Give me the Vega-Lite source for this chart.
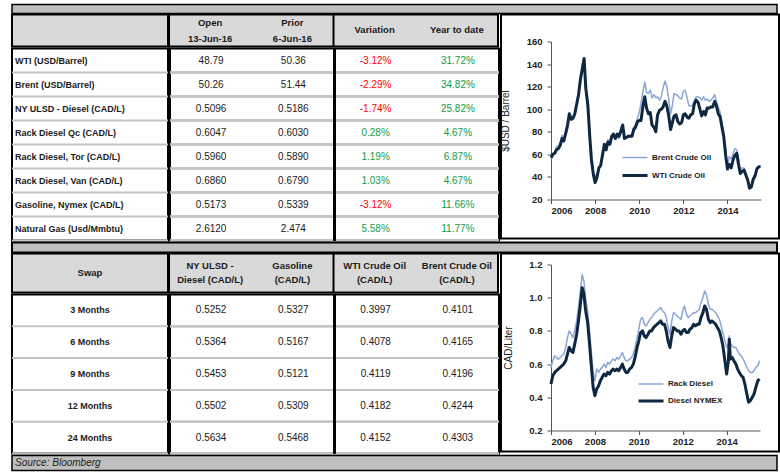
{
"$schema":"https://vega.github.io/schema/vega-lite/v6.json",
"padding":{"left":10,"top":3.5,"right":1,"bottom":1},
"background":"white",
"config":{"view":{"stroke":null},"concat":{"spacing":0},"font":"Liberation Sans",
 "axis":{"domainColor":"#555555","tickColor":"#555555","tickSize":4,"labelFontSize":9.5,"labelFontWeight":"bold","labelColor":"#222222","titleFontSize":10,"titleFontWeight":"normal","titleColor":"#222222","grid":false},
 "axisX":{"labelPadding":2},"axisY":{"labelPadding":5}},
"datasets":{
 "t1":[
  {"r":"WTI (USD/Barrel)","Open":"48.79","Prior":"50.36","Variation":"-3.12%","Year to date":"31.72%"},
  {"r":"Brent (USD/Barrel)","Open":"50.26","Prior":"51.44","Variation":"-2.29%","Year to date":"34.82%"},
  {"r":"NY ULSD - Diesel (CAD/L)","Open":"0.5096","Prior":"0.5186","Variation":"-1.74%","Year to date":"25.82%"},
  {"r":"Rack Diesel Qc (CAD/L)","Open":"0.6047","Prior":"0.6030","Variation":"0.28%","Year to date":"4.67%"},
  {"r":"Rack Diesel, Tor (CAD/L)","Open":"0.5960","Prior":"0.5890","Variation":"1.19%","Year to date":"6.87%"},
  {"r":"Rack Diesel, Van (CAD/L)","Open":"0.6860","Prior":"0.6790","Variation":"1.03%","Year to date":"4.67%"},
  {"r":"Gasoline, Nymex (CAD/L)","Open":"0.5173","Prior":"0.5339","Variation":"-3.12%","Year to date":"11.66%"},
  {"r":"Natural Gas (Usd/Mmbtu)","Open":"2.6120","Prior":"2.474","Variation":"5.58%","Year to date":"11.77%"}
 ],
 "t2":[
  {"r":"3 Months","ULSD":"0.5252","Gasoline":"0.5327","WTI":"0.3997","Brent":"0.4101"},
  {"r":"6 Months","ULSD":"0.5364","Gasoline":"0.5167","WTI":"0.4078","Brent":"0.4165"},
  {"r":"9 Months","ULSD":"0.5453","Gasoline":"0.5121","WTI":"0.4119","Brent":"0.4196"},
  {"r":"12 Months","ULSD":"0.5502","Gasoline":"0.5309","WTI":"0.4182","Brent":"0.4244"},
  {"r":"24 Months","ULSD":"0.5634","Gasoline":"0.5468","WTI":"0.4152","Brent":"0.4303"}
 ],
 "c1":[
  {"t":2006.00,"b":56,"w":57},{"t":2006.08,"b":58,"w":60},{"t":2006.17,"b":62,"w":61},{"t":2006.25,"b":67,"w":64},{"t":2006.33,"b":67,"w":65},{"t":2006.42,"b":71,"w":68},{"t":2006.50,"b":77,"w":74},{"t":2006.58,"b":71,"w":72},{"t":2006.67,"b":77,"w":79},{"t":2006.75,"b":82,"w":86},{"t":2006.83,"b":93,"w":96},{"t":2006.92,"b":92,"w":91},
  {"t":2007.00,"b":92,"w":92},{"t":2007.08,"b":95,"w":96},{"t":2007.17,"b":104,"w":105},{"t":2007.25,"b":111,"w":113},{"t":2007.33,"b":126,"w":126},{"t":2007.42,"b":134,"w":136},{"t":2007.50,"b":143,"w":145},{"t":2007.58,"b":114,"w":118},{"t":2007.67,"b":99,"w":104},{"t":2007.75,"b":73,"w":78},{"t":2007.83,"b":53,"w":56},{"t":2007.92,"b":42,"w":42},
  {"t":2008.00,"b":40,"w":35},{"t":2008.08,"b":43,"w":39},{"t":2008.17,"b":47,"w":48},{"t":2008.25,"b":51,"w":50},{"t":2008.33,"b":58,"w":59},{"t":2008.42,"b":69,"w":69},{"t":2008.50,"b":65,"w":64},{"t":2008.58,"b":73,"w":71},{"t":2008.67,"b":68,"w":69},{"t":2008.75,"b":74,"w":76},{"t":2008.83,"b":77,"w":78},{"t":2008.92,"b":75,"w":74},
  {"t":2009.00,"b":77,"w":78},{"t":2009.08,"b":74,"w":76},{"t":2009.17,"b":79,"w":81},{"t":2009.25,"b":86,"w":86},{"t":2009.33,"b":76,"w":74},{"t":2009.42,"b":75,"w":75},{"t":2009.50,"b":76,"w":76},{"t":2009.58,"b":77,"w":76},{"t":2009.67,"b":78,"w":76},{"t":2009.75,"b":84,"w":82},{"t":2009.83,"b":86,"w":84},{"t":2009.92,"b":92,"w":89},
  {"t":2010.00,"b":97,"w":90},{"t":2010.08,"b":105,"w":90},{"t":2010.17,"b":116,"w":103},{"t":2010.25,"b":124,"w":111},{"t":2010.33,"b":115,"w":101},{"t":2010.42,"b":114,"w":96},{"t":2010.50,"b":117,"w":97},{"t":2010.58,"b":110,"w":86},{"t":2010.67,"b":113,"w":84},{"t":2010.75,"b":110,"w":80},{"t":2010.83,"b":111,"w":95},{"t":2010.92,"b":108,"w":99},
  {"t":2011.00,"b":111,"w":100},{"t":2011.08,"b":119,"w":102},{"t":2011.17,"b":125,"w":107},{"t":2011.25,"b":120,"w":103},{"t":2011.33,"b":110,"w":95},{"t":2011.42,"b":96,"w":82},{"t":2011.50,"b":103,"w":88},{"t":2011.58,"b":114,"w":94},{"t":2011.67,"b":113,"w":95},{"t":2011.75,"b":112,"w":89},{"t":2011.83,"b":110,"w":87},{"t":2011.92,"b":109,"w":88},
  {"t":2012.00,"b":116,"w":95},{"t":2012.08,"b":117,"w":96},{"t":2012.17,"b":110,"w":93},{"t":2012.25,"b":103,"w":92},{"t":2012.33,"b":103,"w":95},{"t":2012.42,"b":103,"w":96},{"t":2012.50,"b":108,"w":105},{"t":2012.58,"b":111,"w":108},{"t":2012.67,"b":111,"w":106},{"t":2012.75,"b":110,"w":100},{"t":2012.83,"b":108,"w":94},{"t":2012.92,"b":111,"w":98},
  {"t":2013.00,"b":108,"w":95},{"t":2013.08,"b":109,"w":101},{"t":2013.17,"b":107,"w":101},{"t":2013.25,"b":108,"w":102},{"t":2013.33,"b":110,"w":102},{"t":2013.42,"b":113,"w":107},{"t":2013.50,"b":107,"w":103},{"t":2013.58,"b":102,"w":96},{"t":2013.67,"b":97,"w":93},{"t":2013.75,"b":87,"w":84},{"t":2013.83,"b":79,"w":76},{"t":2013.92,"b":62,"w":59},
  {"t":2014.00,"b":48,"w":47},{"t":2014.08,"b":58,"w":51},{"t":2014.17,"b":56,"w":48},{"t":2014.25,"b":60,"w":55},{"t":2014.33,"b":65,"w":59},{"t":2014.42,"b":64,"w":61},{"t":2014.50,"b":57,"w":51},{"t":2014.58,"b":47,"w":43},{"t":2014.67,"b":48,"w":45},{"t":2014.75,"b":48,"w":46},{"t":2014.83,"b":44,"w":42},{"t":2014.92,"b":38,"w":37},
  {"t":2015.00,"b":31,"w":30},{"t":2015.08,"b":33,"w":31},{"t":2015.17,"b":39,"w":38},{"t":2015.25,"b":42,"w":41},{"t":2015.33,"b":47,"w":47},{"t":2015.42,"b":49,"w":49},{"t":2015.50,"b":50,"w":49}
 ],
 "c2":[
  {"t":2006.00,"r":0.58,"n":0.48},{"t":2006.08,"r":0.62,"n":0.53},{"t":2006.17,"r":0.65,"n":0.55},{"t":2006.25,"r":0.64,"n":0.56},{"t":2006.33,"r":0.63,"n":0.57},{"t":2006.42,"r":0.64,"n":0.58},{"t":2006.50,"r":0.65,"n":0.59},{"t":2006.58,"r":0.66,"n":0.60},{"t":2006.67,"r":0.70,"n":0.62},{"t":2006.75,"r":0.76,"n":0.66},{"t":2006.83,"r":0.80,"n":0.70},{"t":2006.92,"r":0.78,"n":0.68},
  {"t":2007.00,"r":0.76,"n":0.67},{"t":2007.08,"r":0.80,"n":0.72},{"t":2007.17,"r":0.86,"n":0.78},{"t":2007.25,"r":0.94,"n":0.86},{"t":2007.33,"r":1.03,"n":0.95},{"t":2007.42,"r":1.14,"n":1.06},{"t":2007.50,"r":1.10,"n":1.02},{"t":2007.58,"r":0.99,"n":0.92},{"t":2007.67,"r":0.92,"n":0.85},{"t":2007.75,"r":0.80,"n":0.73},{"t":2007.83,"r":0.68,"n":0.60},{"t":2007.92,"r":0.55,"n":0.46},
  {"t":2008.00,"r":0.50,"n":0.41},{"t":2008.08,"r":0.57,"n":0.45},{"t":2008.17,"r":0.55,"n":0.47},{"t":2008.25,"r":0.57,"n":0.50},{"t":2008.33,"r":0.58,"n":0.52},{"t":2008.42,"r":0.60,"n":0.54},{"t":2008.50,"r":0.58,"n":0.53},{"t":2008.58,"r":0.61,"n":0.55},{"t":2008.67,"r":0.60,"n":0.54},{"t":2008.75,"r":0.62,"n":0.56},{"t":2008.83,"r":0.63,"n":0.57},{"t":2008.92,"r":0.62,"n":0.56},
  {"t":2009.00,"r":0.64,"n":0.57},{"t":2009.08,"r":0.63,"n":0.56},{"t":2009.17,"r":0.65,"n":0.58},{"t":2009.25,"r":0.67,"n":0.60},{"t":2009.33,"r":0.64,"n":0.57},{"t":2009.42,"r":0.62,"n":0.55},{"t":2009.50,"r":0.62,"n":0.55},{"t":2009.58,"r":0.63,"n":0.57},{"t":2009.67,"r":0.64,"n":0.58},{"t":2009.75,"r":0.66,"n":0.60},{"t":2009.83,"r":0.70,"n":0.64},{"t":2009.92,"r":0.76,"n":0.70},
  {"t":2010.00,"r":0.81,"n":0.74},{"t":2010.08,"r":0.87,"n":0.79},{"t":2010.17,"r":0.88,"n":0.80},{"t":2010.25,"r":0.84,"n":0.77},{"t":2010.33,"r":0.83,"n":0.76},{"t":2010.42,"r":0.85,"n":0.78},{"t":2010.50,"r":0.87,"n":0.80},{"t":2010.58,"r":0.88,"n":0.80},{"t":2010.67,"r":0.90,"n":0.82},{"t":2010.75,"r":0.91,"n":0.83},{"t":2010.83,"r":0.92,"n":0.84},{"t":2010.92,"r":0.93,"n":0.85},
  {"t":2011.00,"r":0.94,"n":0.86},{"t":2011.08,"r":0.92,"n":0.84},{"t":2011.17,"r":0.91,"n":0.84},{"t":2011.25,"r":0.88,"n":0.80},{"t":2011.33,"r":0.82,"n":0.74},{"t":2011.42,"r":0.78,"n":0.70},{"t":2011.50,"r":0.86,"n":0.77},{"t":2011.58,"r":0.91,"n":0.82},{"t":2011.67,"r":0.90,"n":0.81},{"t":2011.75,"r":0.89,"n":0.80},{"t":2011.83,"r":0.88,"n":0.80},{"t":2011.92,"r":0.87,"n":0.78},
  {"t":2012.00,"r":0.92,"n":0.80},{"t":2012.08,"r":0.95,"n":0.81},{"t":2012.17,"r":0.90,"n":0.79},{"t":2012.25,"r":0.88,"n":0.79},{"t":2012.33,"r":0.89,"n":0.81},{"t":2012.42,"r":0.90,"n":0.82},{"t":2012.50,"r":0.91,"n":0.84},{"t":2012.58,"r":0.91,"n":0.83},{"t":2012.67,"r":0.92,"n":0.84},{"t":2012.75,"r":0.93,"n":0.84},{"t":2012.83,"r":0.97,"n":0.88},{"t":2012.92,"r":1.00,"n":0.91},
  {"t":2013.00,"r":1.04,"n":0.95},{"t":2013.08,"r":1.02,"n":0.93},{"t":2013.17,"r":0.96,"n":0.87},{"t":2013.25,"r":0.93,"n":0.85},{"t":2013.33,"r":0.93,"n":0.86},{"t":2013.42,"r":0.92,"n":0.85},{"t":2013.50,"r":0.91,"n":0.84},{"t":2013.58,"r":0.89,"n":0.82},{"t":2013.67,"r":0.87,"n":0.80},{"t":2013.75,"r":0.83,"n":0.76},{"t":2013.83,"r":0.79,"n":0.71},{"t":2013.92,"r":0.74,"n":0.62},
  {"t":2014.00,"r":0.70,"n":0.54},{"t":2014.08,"r":0.72,"n":0.62},{"t":2014.12,"r":0.77,"n":0.75},{"t":2014.17,"r":0.73,"n":0.63},{"t":2014.25,"r":0.71,"n":0.64},{"t":2014.33,"r":0.70,"n":0.62},{"t":2014.42,"r":0.70,"n":0.60},{"t":2014.50,"r":0.68,"n":0.57},{"t":2014.58,"r":0.66,"n":0.55},{"t":2014.67,"r":0.65,"n":0.53},{"t":2014.75,"r":0.63,"n":0.52},{"t":2014.83,"r":0.61,"n":0.48},{"t":2014.92,"r":0.58,"n":0.42},
  {"t":2015.00,"r":0.56,"n":0.37},{"t":2015.08,"r":0.55,"n":0.38},{"t":2015.17,"r":0.55,"n":0.40},{"t":2015.25,"r":0.56,"n":0.42},{"t":2015.33,"r":0.58,"n":0.46},{"t":2015.42,"r":0.59,"n":0.50},{"t":2015.50,"r":0.62,"n":0.51}
 ]
},
"spacing":-6,
"resolve":{"scale":{"color":"independent","strokeWidth":"independent"},"legend":{"color":"independent","strokeWidth":"independent"}},
"vconcat":[
 {"width":765,"height":9,"view":{"fill":"#bfbfbf","stroke":"#000000","strokeWidth":1.5},"data":{"values":[]},"mark":"text"},
 {"spacing":-4,"resolve":{"scale":{"color":"independent","strokeWidth":"independent"},"legend":{"color":"independent","strokeWidth":"independent"}},"hconcat":[
  {"spacing":-7,"vconcat":[
   {"spacing":-4,"hconcat":[
    {"width":156,"height":32,"view":{"fill":"#d9d9d9","stroke":"#000000","strokeWidth":2},"data":{"values":[]},"mark":"text"},
    {"width":329,"height":32,"view":{"fill":"#d9d9d9","stroke":"#000000","strokeWidth":2},
     "data":{"values":[{"c":"Open","a":"Open","b":"13-Jun-16"},{"c":"Prior","a":"Prior","b":"6-Jun-16"},{"c":"Variation","m":"Variation"},{"c":"Year to date","m":"Year to date"}]},
     "layer":[
      {"transform":[{"filter":"isValid(datum.a)"}],"mark":{"type":"text","fontWeight":"bold","fontSize":9.5,"dy":-8,"color":"#1a1a1a"},
       "encoding":{"x":{"field":"c","type":"nominal","scale":{"domain":["Open","Prior","Variation","Year to date"],"paddingInner":0,"paddingOuter":0},"axis":null},"text":{"field":"a"}}},
      {"transform":[{"filter":"isValid(datum.b)"}],"mark":{"type":"text","fontWeight":"bold","fontSize":9.5,"dy":8,"color":"#1a1a1a"},
       "encoding":{"x":{"field":"c","type":"nominal","scale":{"domain":["Open","Prior","Variation","Year to date"],"paddingInner":0,"paddingOuter":0},"axis":null},"text":{"field":"b"}}},
      {"transform":[{"filter":"isValid(datum.m)"}],"mark":{"type":"text","fontWeight":"bold","fontSize":9.5,"dy":-1,"color":"#1a1a1a"},
       "encoding":{"x":{"field":"c","type":"nominal","scale":{"domain":["Open","Prior","Variation","Year to date"],"paddingInner":0,"paddingOuter":0},"axis":null},"text":{"field":"m"}}},
      {"transform":[{"filter":"datum.c==='Variation'"}],"mark":{"type":"rule","color":"#000000","strokeWidth":2},
       "encoding":{"x":{"field":"c","type":"nominal","bandPosition":0,"scale":{"domain":["Open","Prior","Variation","Year to date"],"paddingInner":0,"paddingOuter":0},"axis":null}}}
     ]}
   ]},
   {"spacing":-4,"hconcat":[
    {"width":156,"height":192,"view":{"stroke":"#000000","strokeWidth":2},"data":{"name":"t1"},
     "layer":[
      {"mark":{"type":"rule","color":"#c4c4c4","strokeWidth":2},"encoding":{"y":{"field":"r","type":"nominal","sort":null,"bandPosition":1,"scale":{"paddingInner":0,"paddingOuter":0},"axis":null}}},
      {"mark":{"type":"text","align":"left","dx":3,"fontWeight":"bold","fontSize":9,"color":"#1a1a1a"},
       "encoding":{"y":{"field":"r","type":"nominal","sort":null,"scale":{"paddingInner":0,"paddingOuter":0},"axis":null},"x":{"datum":0,"type":"quantitative","scale":{"domain":[0,1]},"axis":null},"text":{"field":"r"}}}
     ]},
    {"width":329,"height":192,"view":{"stroke":"#000000","strokeWidth":2},"data":{"name":"t1"},
     "transform":[{"fold":["Open","Prior","Variation","Year to date"],"as":["c","v"]}],
     "layer":[
      {"mark":{"type":"rule","color":"#c4c4c4","strokeWidth":2},"encoding":{"y":{"field":"r","type":"nominal","sort":null,"bandPosition":1,"scale":{"paddingInner":0,"paddingOuter":0},"axis":null}}},
      {"mark":{"type":"text","fontSize":10,"color":"#1a1a1a"},
       "encoding":{"y":{"field":"r","type":"nominal","sort":null,"scale":{"paddingInner":0,"paddingOuter":0},"axis":null},
        "x":{"field":"c","type":"nominal","scale":{"domain":["Open","Prior","Variation","Year to date"],"paddingInner":0,"paddingOuter":0},"axis":null},
        "text":{"field":"v"},
        "color":{"condition":[{"test":"indexof(datum.v,'-')===0","value":"#ff0000"},{"test":"indexof(datum.v,'%')>0","value":"#159a4a"}],"value":"#1a1a1a"}}},
      {"transform":[{"filter":"datum.c==='Variation'"}],"mark":{"type":"rule","color":"#000000","strokeWidth":2},
       "encoding":{"x":{"field":"c","type":"nominal","bandPosition":0,"scale":{"domain":["Open","Prior","Variation","Year to date"],"paddingInner":0,"paddingOuter":0},"axis":null}}}
     ]}
   ]}
  ]},
  {"width":278,"height":224,"view":{"stroke":"#000000","strokeWidth":2},"data":{"name":"c1"},
   "transform":[{"fold":["b","w"],"as":["s","v"]}],
   "mark":{"type":"line","strokeJoin":"round"},
   "encoding":{
    "x":{"field":"t","type":"quantitative","scale":{"domain":[2006,2015.52],"range":[50,260],"nice":false,"zero":false},"axis":{"values":[2006,2008,2010,2012,2014],"format":"d","title":null,"offset":-39}},
    "y":{"field":"v","type":"quantitative","scale":{"domain":[20,160],"range":[185,27],"nice":false,"zero":false},"axis":{"values":[20,40,60,80,100,120,140,160],"title":"$USD / Barrel","titlePadding":16,"offset":-50}},
    "color":{"field":"s","type":"ordinal","scale":{"domain":["b","w"],"range":["#8ca5d7","#0f2841"]},
     "legend":{"orient":"none","legendX":120,"legendY":134,"title":null,"symbolType":"stroke","symbolSize":625,"clipHeight":18,"rowPadding":0,"labelFontSize":8,"labelFontWeight":"bold","labelColor":"#1a1a1a","labelOffset":3,"padding":0,
      "labelExpr":"datum.label=='b'?'Brent Crude Oil':'WTI Crude Oil'",
      "encode":{"symbols":{"update":{"strokeWidth":{"signal":"datum.value==='w' ? 3.5 : 1.5"}}}}}},
    "strokeWidth":{"field":"s","type":"ordinal","scale":{"domain":["b","w"],"range":[1.5,3]},"legend":null}
   }}
 ]},
 {"width":765,"height":10,"view":{"fill":"#bfbfbf","stroke":"#000000","strokeWidth":2},"data":{"values":[]},"mark":"text"},
 {"spacing":-4,"resolve":{"scale":{"color":"independent","strokeWidth":"independent"},"legend":{"color":"independent","strokeWidth":"independent"}},"hconcat":[
  {"spacing":-7,"vconcat":[
   {"spacing":-4,"hconcat":[
    {"width":156,"height":39,"view":{"fill":"#d9d9d9","stroke":"#000000","strokeWidth":2},"data":{"values":[{"h":"Swap"}]},
     "mark":{"type":"text","fontWeight":"bold","fontSize":9.5,"color":"#1a1a1a"},"encoding":{"text":{"field":"h"}}},
    {"width":329,"height":39,"view":{"fill":"#d9d9d9","stroke":"#000000","strokeWidth":2},
     "data":{"values":[{"c":"ULSD","a":"NY ULSD -","b":"Diesel (CAD/L)"},{"c":"Gasoline","a":"Gasoline","b":"(CAD/L)"},{"c":"WTI","a":"WTI Crude Oil","b":"(CAD/L)"},{"c":"Brent","a":"Brent Crude Oil","b":"(CAD/L)"}]},
     "layer":[
      {"mark":{"type":"text","fontWeight":"bold","fontSize":9.5,"dy":-7,"color":"#1a1a1a"},
       "encoding":{"x":{"field":"c","type":"nominal","scale":{"domain":["ULSD","Gasoline","WTI","Brent"],"paddingInner":0,"paddingOuter":0},"axis":null},"text":{"field":"a"}}},
      {"mark":{"type":"text","fontWeight":"bold","fontSize":9.5,"dy":7,"color":"#1a1a1a"},
       "encoding":{"x":{"field":"c","type":"nominal","scale":{"domain":["ULSD","Gasoline","WTI","Brent"],"paddingInner":0,"paddingOuter":0},"axis":null},"text":{"field":"b"}}},
      {"transform":[{"filter":"datum.c==='WTI'"}],"mark":{"type":"rule","color":"#000000","strokeWidth":2},
       "encoding":{"x":{"field":"c","type":"nominal","bandPosition":0,"scale":{"domain":["ULSD","Gasoline","WTI","Brent"],"paddingInner":0,"paddingOuter":0},"axis":null}}}
     ]}
   ]},
   {"spacing":-4,"hconcat":[
    {"width":156,"height":159,"view":{"stroke":"#000000","strokeWidth":2},"data":{"name":"t2"},
     "layer":[
      {"mark":{"type":"rule","color":"#c4c4c4","strokeWidth":2},"encoding":{"y":{"field":"r","type":"nominal","sort":null,"bandPosition":1,"scale":{"paddingInner":0,"paddingOuter":0},"axis":null}}},
      {"mark":{"type":"text","fontWeight":"bold","fontSize":9,"color":"#1a1a1a"},
       "encoding":{"y":{"field":"r","type":"nominal","sort":null,"scale":{"paddingInner":0,"paddingOuter":0},"axis":null},"text":{"field":"r"}}}
     ]},
    {"width":329,"height":159,"view":{"stroke":"#000000","strokeWidth":2},"data":{"name":"t2"},
     "transform":[{"fold":["ULSD","Gasoline","WTI","Brent"],"as":["c","v"]}],
     "layer":[
      {"mark":{"type":"rule","color":"#c4c4c4","strokeWidth":2},"encoding":{"y":{"field":"r","type":"nominal","sort":null,"bandPosition":1,"scale":{"paddingInner":0,"paddingOuter":0},"axis":null}}},
      {"mark":{"type":"text","fontSize":10,"color":"#1a1a1a"},
       "encoding":{"y":{"field":"r","type":"nominal","sort":null,"scale":{"paddingInner":0,"paddingOuter":0},"axis":null},
        "x":{"field":"c","type":"nominal","scale":{"domain":["ULSD","Gasoline","WTI","Brent"],"paddingInner":0,"paddingOuter":0},"axis":null},
        "text":{"field":"v"}}},
      {"transform":[{"filter":"datum.c==='WTI'"}],"mark":{"type":"rule","color":"#000000","strokeWidth":2},
       "encoding":{"x":{"field":"c","type":"nominal","bandPosition":0,"scale":{"domain":["ULSD","Gasoline","WTI","Brent"],"paddingInner":0,"paddingOuter":0},"axis":null}}}
     ]}
   ]}
  ]},
  {"width":278,"height":198,"view":{"stroke":"#000000","strokeWidth":2},"data":{"name":"c2"},
   "transform":[{"fold":["r","n"],"as":["s","v"]}],
   "mark":{"type":"line","strokeJoin":"round"},
   "encoding":{
    "x":{"field":"t","type":"quantitative","scale":{"domain":[2006,2015.52],"range":[50,259],"nice":false,"zero":false},"axis":{"values":[2006,2008,2010,2012,2014],"format":"d","title":null,"offset":-21}},
    "y":{"field":"v","type":"quantitative","scale":{"domain":[0.2,1.2],"range":[177,11],"nice":false,"zero":false},"axis":{"values":[0.2,0.4,0.6,0.8,1.0,1.2],"format":".1f","title":"CAD/Liter","titlePadding":15,"offset":-50}},
    "color":{"field":"s","type":"ordinal","scale":{"domain":["r","n"],"range":["#8ca5d7","#0f2841"]},
     "legend":{"orient":"none","legendX":136,"legendY":122,"title":null,"symbolType":"stroke","symbolSize":625,"clipHeight":17,"rowPadding":0,"labelFontSize":8,"labelFontWeight":"bold","labelColor":"#1a1a1a","labelOffset":3,"padding":0,
      "labelExpr":"datum.label=='r'?'Rack Diesel':'Diesel NYMEX'",
      "encode":{"symbols":{"update":{"strokeWidth":{"signal":"datum.value==='n' ? 3.5 : 1.5"}}}}}},
    "strokeWidth":{"field":"s","type":"ordinal","scale":{"domain":["r","n"],"range":[1.5,3]},"legend":null}
   }}
 ]},
 {"width":765,"height":15,"view":{"fill":"#bfbfbf","stroke":"#000000","strokeWidth":1.5},"data":{"values":[{"s":"Source: Bloomberg"}]},
  "mark":{"type":"text","align":"left","dx":3,"fontStyle":"italic","fontSize":10,"color":"#1a1a1a"},
  "encoding":{"x":{"datum":0,"type":"quantitative","scale":{"domain":[0,1]},"axis":null},"text":{"field":"s"}}}
]
}
